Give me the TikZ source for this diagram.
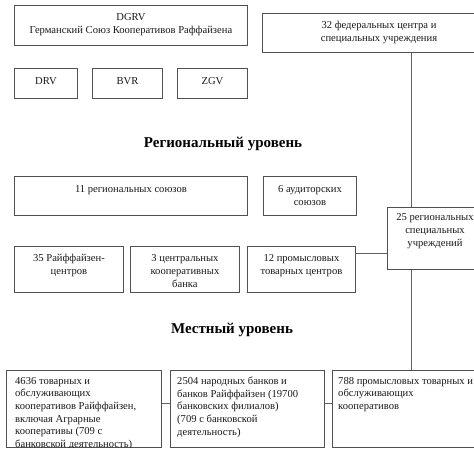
\documentclass[tikz,border=0pt]{standalone}
\usepackage{fontspec}
\setmainfont{Liberation Serif}
\usepackage{xcolor}
\usepackage{tikz}

\definecolor{boxgray}{HTML}{505050}
\definecolor{linegray}{HTML}{606060}
\definecolor{inkgray}{HTML}{1A1A1A}

\tikzset{
  unit/.style={draw=boxgray, line width=0.9pt, anchor=north west, inner sep=0pt},
  lbl/.style={anchor=north, align=center, inner sep=0pt, text=inkgray,
    font=\fontsize{10.6}{13}\selectfont},
  lbll/.style={anchor=north west, align=left, inner sep=0pt, text=inkgray,
    font=\fontsize{10.6}{12.6}\selectfont},
  level/.style={inner sep=0pt, text=black, font=\fontsize{15}{17}\selectfont\bfseries},
  link/.style={draw=linegray, line width=1pt}
}

\begin{document}
\begin{tikzpicture}[x=1pt,y=-1pt]
\clip (0,0) rectangle (474,452);
\fill[white] (0,0) rectangle (474,452);
% federal level
\node[unit, minimum width=233pt, minimum height=40pt] (dgrv) at (14,5) {};
  \node[lbl] (dgrvt) at ([yshift=-8pt]dgrv.north) {DGRV\\Германский Союз Кооперативов Раффайзена};
\node[unit, minimum width=63pt, minimum height=30pt] (drv) at (14,68) {};
  \node[lbl] (drvt) at ([yshift=-9pt]drv.north) {DRV};
\node[unit, minimum width=70pt, minimum height=30pt] (bvr) at (92,68) {};
  \node[lbl] (bvrt) at ([yshift=-9pt]bvr.north) {BVR};
\node[unit, minimum width=70pt, minimum height=30pt] (zgv) at (177,68) {};
  \node[lbl] (zgvt) at ([yshift=-9pt]zgv.north) {ZGV};
\node[unit, minimum width=240pt, minimum height=39pt] (fed) at (262,13) {};
  \node[lbl] (fedt) at ([yshift=-8pt]379,13) {32 федеральных центра и\\специальных учреждения};

% regional level
\node[level] (regl) at (223,144) {Региональный уровень};
\node[unit, minimum width=233pt, minimum height=39pt] (reg11) at (14,176) {};
  \node[lbl] (reg11t) at ([yshift=-9pt]reg11.north) {11 региональных союзов};
\node[unit, minimum width=93pt, minimum height=39pt] (aud) at (263,176) {};
  \node[lbl] (audt) at ([yshift=-9pt]aud.north) {6 аудиторских\\союзов};
\node[unit, minimum width=100pt, minimum height=62pt] (reg25) at (387,207) {};
  \node[lbl] (reg25t) at ([yshift=-6pt]435,207) {25 региональных\\специальных\\учреждений};
\node[unit, minimum width=109pt, minimum height=46pt] (raif) at (14,246) {};
  \node[lbl] (raift) at ([yshift=-8pt]raif.north) {35 Райффайзен-\\центров};
\node[unit, minimum width=109pt, minimum height=46pt] (zent) at (130,246) {};
  \node[lbl] (zentt) at ([yshift=-8pt]zent.north) {3 центральных\\кооперативных\\банка};
\node[unit, minimum width=108pt, minimum height=46pt] (prom) at (247,246) {};
  \node[lbl] (promt) at ([yshift=-8pt]prom.north) {12 промысловых\\товарных центров};

% local level
\node[level] (lokl) at (232,330) {Местный уровень};
\node[unit, minimum width=155pt, minimum height=77pt] (b1) at (6,370) {};
\node[unit, minimum width=154pt, minimum height=77pt] (b2) at (170,370) {};
\node[unit, minimum width=160pt, minimum height=77pt] (b3) at (332,370) {};
\begin{scope}
  \clip (b1.north west) rectangle (b1.south east);
  \node[lbll] (b1t) at ([xshift=9pt,yshift=-7pt]b1.north west) {4636 товарных и\\обслуживающих\\кооперативов Райффайзен,\\включая Аграрные\\кооперативы (709 с\\банковской деятельность)};
\end{scope}
\node[lbll] (b2t) at ([xshift=7pt,yshift=-7pt]b2.north west) {2504 народных банков и\\банков Райффайзен (19700\\банковских филиалов)\\(709 с банковской\\деятельность)};
\node[lbll] (b3t) at ([xshift=6pt,yshift=-7pt]b3.north west) {788 промысловых товарных и\\обслуживающих\\кооперативов};

% connectors
\coordinate (sp) at (411,0);
\coordinate (lk) at (0,253);
\coordinate (lb) at (0,403);
\draw[link] (fed.south -| sp) -- (reg25.north -| sp);
\draw[link] (reg25.south -| sp) -- (b3.north -| sp);
\draw[link] (prom.east |- lk) -- (reg25.west |- lk);
\draw[link] (b1.east |- lb) -- (b2.west |- lb);
\draw[link] (b2.east |- lb) -- (b3.west |- lb);
\end{tikzpicture}
\end{document}
